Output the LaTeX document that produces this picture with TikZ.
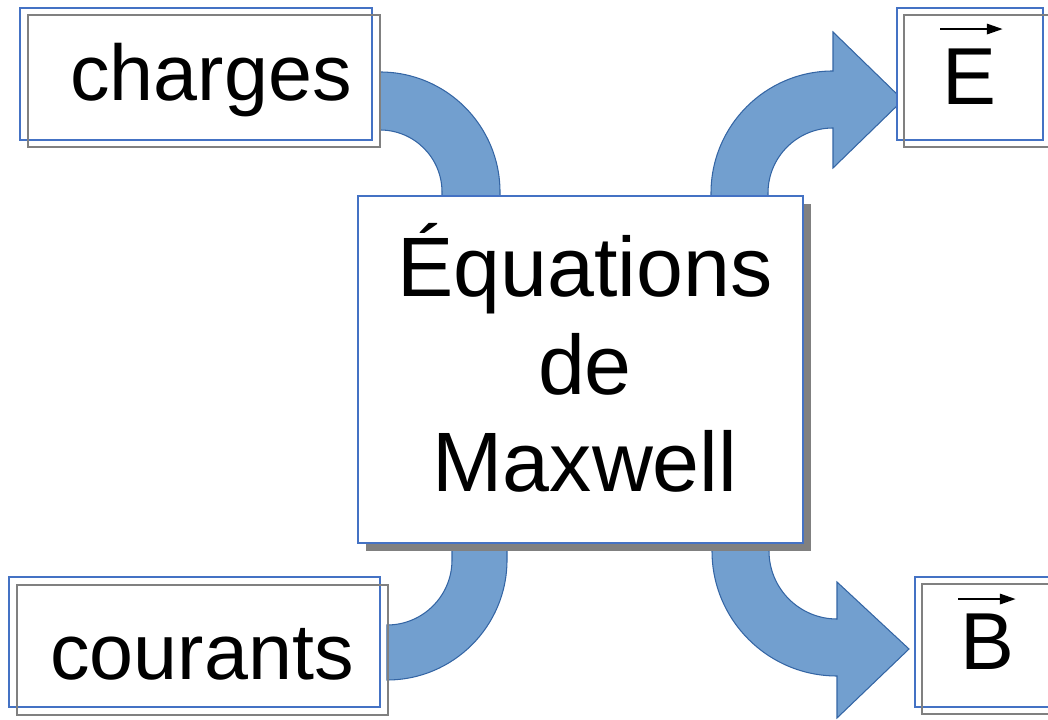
\documentclass[tikz,border=0pt]{standalone}
\usepackage{fontspec}
\setmainfont{Liberation Sans}
\usetikzlibrary{arrows.meta}
\definecolor{boxblue}{RGB}{68,114,196}
\definecolor{boxgray}{RGB}{128,128,128}
\definecolor{bandfill}{RGB}{114,159,207}
\definecolor{bandline}{RGB}{52,101,164}
\tikzset{
  box/.style={draw=boxblue, line width=0.8pt, fill=white, inner sep=0pt},
  boxcopy/.style={draw=boxgray, line width=0.8pt, inner sep=0pt},
  band/.style={fill=bandfill, draw=bandline, line width=0.6pt},
  word/.style={font=\fontsize{45}{50}\selectfont, anchor=base west, inner sep=0pt},
  letter/.style={font=\fontsize{46}{52}\selectfont, anchor=base west, inner sep=0pt},
  vecarrow/.style={line width=0.9pt, -{Triangle[length=9pt, width=6pt]}},
}

\begin{document}
\begin{tikzpicture}[x=0.02cm, y=0.02cm]
\useasboundingbox (0,0) rectangle (1048,720);
% bands
\draw [band] (380,648) arc [start angle=90, end angle=0, radius=120] -- (500,520) --
(442,520) -- (442,528) arc [start angle=0, end angle=90, radius=62] -- cycle;
\draw [band] (507,180) -- (507,160) arc [start angle=0, end angle=-90, radius=120] --
(387,95) arc [start angle=-90, end angle=0, radius=65] -- (452,180) -- cycle;
\draw [band] (711,520) -- (711,527) arc [start angle=180, end angle=90, radius=122] --
(833,688) -- (903,620) -- (833,552) -- (833,592)
arc [start angle=90, end angle=180, radius=65] -- (768,520) -- cycle;
\draw [band] (712,180) -- (712,169) arc [start angle=180, end angle=270, radius=125] --
(837,2) -- (909,71) -- (837,138) -- (837,101)
arc [start angle=270, end angle=180, radius=68] -- (769,180) -- cycle;
% centre
\node [fill=boxgray, minimum width=8.9cm, minimum height=6.94cm, inner sep=0pt]
(maxwell shadow) at (588.5,342.5) {};
\node [box, minimum width=8.9cm, minimum height=6.94cm] (maxwell) at (580.5,350.5) {};
\node [font=\fontsize{48}{55.6}\selectfont, align=center, anchor=base, inner sep=0pt]
(maxwell text) at (585,228) {Équations\\de\\Maxwell};
% sources
\node [box, minimum width=7.04cm, minimum height=2.64cm] (charges) at (196,646) {};
\node [boxcopy, minimum width=7.04cm, minimum height=2.64cm] (charges copy)
at ([shift={(8,-7)}]charges.center) {};
\node [word] (charges text) at (70,619) {charges};
\node [box, minimum width=7.42cm, minimum height=2.6cm] (courants) at (194.5,78) {};
\node [boxcopy, minimum width=7.42cm, minimum height=2.6cm] (courants copy)
at ([shift={(8,-8)}]courants.center) {};
\node [word] (courants text) at (50,40) {courants};
% fields
\node [box, minimum width=2.92cm, minimum height=2.64cm] (E) at (970,646) {};
\node [boxcopy, minimum width=2.92cm, minimum height=2.64cm] (E copy)
at ([shift={(7,-7)}]E.center) {};
\node [letter] (E letter) at (942,615) {E};
\draw [vecarrow] ([shift={(-2,20)}]E letter.north west) -- ([shift={(6,20)}]E letter.north east);
\node [box, minimum width=3cm, minimum height=2.6cm] (B) at (990,78) {};
\node [boxcopy, minimum width=3cm, minimum height=2.6cm] (B copy)
at ([shift={(7,-7)}]B.center) {};
\node [letter] (B letter) at (960,50) {B};
\draw [vecarrow] ([shift={(-2,15)}]B letter.north west) -- ([shift={(1,15)}]B letter.north east);
\end{tikzpicture}
\end{document}
